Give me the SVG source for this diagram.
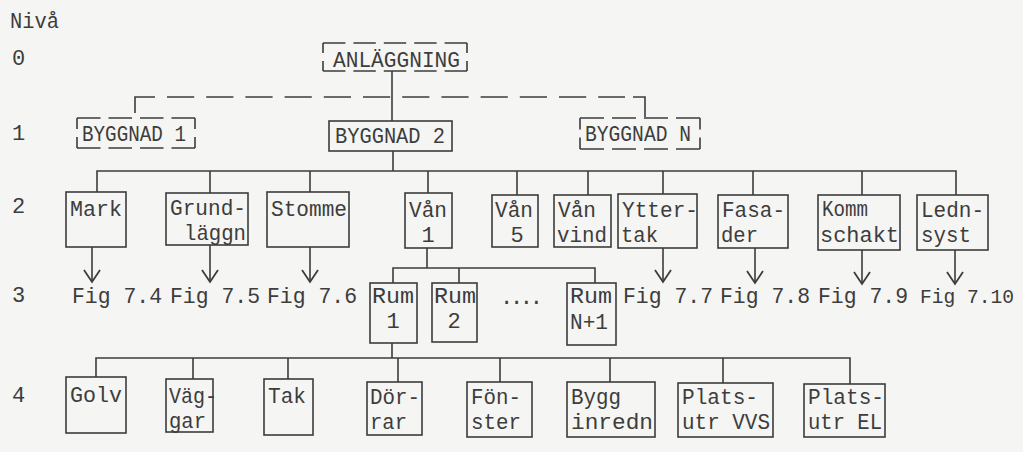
<svg xmlns="http://www.w3.org/2000/svg" width="1023" height="452" viewBox="0 0 1023 452">
<defs>
<style>
text{font-family:"Liberation Mono","DejaVu Sans Mono",monospace;font-size:22px;fill:#3d3d3d}
.box{fill:none;stroke:#3c3c3c;stroke-width:1.6}
.ln{fill:none;stroke:#3c3c3c;stroke-width:1.6}
.ar{fill:none;stroke:#3c3c3c;stroke-width:1.6;marker-end:url(#ah)}
</style>
<marker id="ah" markerWidth="16" markerHeight="20" refX="14" refY="10" orient="auto" markerUnits="userSpaceOnUse" viewBox="0 0 16 20">
<polyline points="2,2 14,10 2,18" fill="none" stroke="#3c3c3c" stroke-width="1.8"/>
</marker>
</defs>
<rect x="0" y="0" width="1023" height="452" fill="#f5f5f3"/>

<g id="levels">
<text x="10" y="28" textLength="49" lengthAdjust="spacingAndGlyphs">Nivå</text>
<text x="12" y="65">0</text>
<text x="12" y="140">1</text>
<text x="12" y="213">2</text>
<text x="12" y="302">3</text>
<text x="12" y="402">4</text>
</g>

<g id="connectors">
<path class="ln" d="M135,113 V97 H155"/>
<path class="ln" d="M167,97 H625" stroke-dasharray="27.2 12"/>
<path class="ln" d="M633,97 H645 V117"/>
<path class="ln" d="M392,71 V121"/>
<path class="ln" d="M393,151 V171 M97,192 V171 H956 V195 M210,171 V193 M310,171 V192 M428,171 V193 M517,171 V195 M588,171 V195 M663,171 V194 M753,171 V195 M862,171 V195"/>
<path class="ln" d="M427,248 V268 M393,283 V268 H595 V283 M459,268 V283"/>
<path class="ln" d="M392,343 V358 M96,377 V358 H850 V384 M193,358 V379 M288,358 V379 M398,358 V382 M500,358 V382 M610,358 V382 M723,358 V383"/>
<path class="ar" d="M92,247 V282"/>
<path class="ar" d="M210,245 V282"/>
<path class="ar" d="M310,247 V282"/>
<path class="ar" d="M663,248 V282"/>
<path class="ar" d="M755,248 V283"/>
<path class="ar" d="M862,250 V284"/>
<path class="ar" d="M955,250 V284"/>
</g>

<g id="n-anlaggning">
<path class="ln" d="M323,43 H467 M323,71 H467" stroke-dasharray="22.4 8"/>
<path class="ln" d="M323,43 V71 M467,43 V71" stroke-dasharray="10 8"/>
<text x="333" y="67" textLength="127" lengthAdjust="spacingAndGlyphs">ANLÄGGNING</text>
</g>
<g id="n-byggnad1">
<path class="ln" d="M77,118 H195 M77,148 H195" stroke-dasharray="23.5 8"/>
<path class="ln" d="M77,118 V148 M195,118 V148" stroke-dasharray="11 8"/>
<text x="82" y="141" textLength="104" lengthAdjust="spacingAndGlyphs">BYGGNAD 1</text>
</g>
<g id="n-byggnad2"><rect class="box" x="329" y="121" width="123" height="30"/><text x="335" y="143" textLength="110" lengthAdjust="spacingAndGlyphs">BYGGNAD 2</text></g>
<g id="n-byggnadN">
<path class="ln" d="M580,118 H700 M580,149 H700" stroke-dasharray="24 8"/>
<path class="ln" d="M580,118 V149 M700,118 V149" stroke-dasharray="11.5 8"/>
<text x="585" y="141" textLength="106" lengthAdjust="spacingAndGlyphs">BYGGNAD N</text>
</g>

<g id="n-mark"><rect class="box" x="66" y="192" width="60" height="55"/><text x="70" y="216" textLength="52" lengthAdjust="spacingAndGlyphs">Mark</text></g>
<g id="n-grund"><rect class="box" x="166" y="193" width="82" height="52"/><text x="170" y="215" textLength="76" lengthAdjust="spacingAndGlyphs">Grund-</text><text x="184" y="240" textLength="62" lengthAdjust="spacingAndGlyphs">läggn</text></g>
<g id="n-stomme"><rect class="box" x="267" y="192" width="82" height="55"/><text x="271" y="216" textLength="76" lengthAdjust="spacingAndGlyphs">Stomme</text></g>
<g id="n-van1"><rect class="box" x="405" y="193" width="47" height="55"/><text x="409" y="217" textLength="38" lengthAdjust="spacingAndGlyphs">Vån</text><text x="428" y="242" text-anchor="middle">1</text></g>
<g id="n-van5"><rect class="box" x="492" y="195" width="46" height="52"/><text x="495" y="217" textLength="38" lengthAdjust="spacingAndGlyphs">Vån</text><text x="517" y="242" text-anchor="middle">5</text></g>
<g id="n-vanvind"><rect class="box" x="554" y="195" width="57" height="52"/><text x="558" y="217" textLength="38" lengthAdjust="spacingAndGlyphs">Vån</text><text x="557" y="242" textLength="50" lengthAdjust="spacingAndGlyphs">vind</text></g>
<g id="n-yttertak"><rect class="box" x="618" y="194" width="79" height="54"/><text x="622" y="217" textLength="76" lengthAdjust="spacingAndGlyphs">Ytter-</text><text x="621" y="242" textLength="37" lengthAdjust="spacingAndGlyphs">tak</text></g>
<g id="n-fasader"><rect class="box" x="718" y="195" width="70" height="53"/><text x="722" y="217" textLength="63" lengthAdjust="spacingAndGlyphs">Fasa-</text><text x="721" y="242" textLength="37" lengthAdjust="spacingAndGlyphs">der</text></g>
<g id="n-komm"><rect class="box" x="818" y="195" width="82" height="55"/><text x="822" y="216" textLength="46" lengthAdjust="spacingAndGlyphs">Komm</text><text x="820" y="242" textLength="79" lengthAdjust="spacingAndGlyphs">schakt</text></g>
<g id="n-ledn"><rect class="box" x="917" y="195" width="71" height="55"/><text x="921" y="217" textLength="63" lengthAdjust="spacingAndGlyphs">Ledn-</text><text x="921" y="242" textLength="50" lengthAdjust="spacingAndGlyphs">syst</text></g>

<g id="figrefs">
<text x="72" y="303" textLength="90" lengthAdjust="spacingAndGlyphs">Fig 7.4</text>
<text x="170" y="303" textLength="90" lengthAdjust="spacingAndGlyphs">Fig 7.5</text>
<text x="267" y="303" textLength="90" lengthAdjust="spacingAndGlyphs">Fig 7.6</text>
<text x="623" y="303" textLength="90" lengthAdjust="spacingAndGlyphs">Fig 7.7</text>
<text x="720" y="303" textLength="90" lengthAdjust="spacingAndGlyphs">Fig 7.8</text>
<text x="818" y="303" textLength="90" lengthAdjust="spacingAndGlyphs">Fig 7.9</text>
<text x="920" y="303" style="font-size:21px" textLength="94" lengthAdjust="spacingAndGlyphs">Fig 7.10</text>
</g>

<g id="n-rum1"><rect class="box" x="370" y="283" width="47" height="60"/><text x="372" y="303" textLength="42" lengthAdjust="spacingAndGlyphs">Rum</text><text x="393" y="328" text-anchor="middle">1</text></g>
<g id="n-rum2"><rect class="box" x="432" y="283" width="45" height="59"/><text x="434" y="303" textLength="42" lengthAdjust="spacingAndGlyphs">Rum</text><text x="454" y="328" text-anchor="middle">2</text></g>
<text x="500" y="304" textLength="43" lengthAdjust="spacing">....</text>
<g id="n-rumN"><rect class="box" x="567" y="283" width="49" height="62"/><text x="570" y="303" textLength="42" lengthAdjust="spacingAndGlyphs">Rum</text><text x="570" y="329" textLength="38" lengthAdjust="spacingAndGlyphs">N+1</text></g>

<g id="n-golv"><rect class="box" x="66" y="377" width="60" height="56"/><text x="70" y="402" textLength="52" lengthAdjust="spacingAndGlyphs">Golv</text></g>
<g id="n-vaggar"><rect class="box" x="166" y="379" width="47" height="53"/><text x="169" y="403" textLength="48" lengthAdjust="spacingAndGlyphs">Väg-</text><text x="169" y="428" textLength="37" lengthAdjust="spacingAndGlyphs">gar</text></g>
<g id="n-tak"><rect class="box" x="264" y="379" width="49" height="56"/><text x="268" y="403" textLength="38" lengthAdjust="spacingAndGlyphs">Tak</text></g>
<g id="n-dorrar"><rect class="box" x="367" y="382" width="55" height="53"/><text x="370" y="404" textLength="50" lengthAdjust="spacingAndGlyphs">Dör-</text><text x="370" y="429" textLength="37" lengthAdjust="spacingAndGlyphs">rar</text></g>
<g id="n-fonster"><rect class="box" x="467" y="382" width="65" height="55"/><text x="471" y="404" textLength="50" lengthAdjust="spacingAndGlyphs">Fön-</text><text x="471" y="429" textLength="50" lengthAdjust="spacingAndGlyphs">ster</text></g>
<g id="n-bygg"><rect class="box" x="567" y="382" width="88" height="55"/><text x="571" y="404" textLength="50" lengthAdjust="spacingAndGlyphs">Bygg</text><text x="571" y="429" textLength="82" lengthAdjust="spacingAndGlyphs">inredn</text></g>
<g id="n-platsvvs"><rect class="box" x="678" y="383" width="95" height="54"/><text x="682" y="404" textLength="76" lengthAdjust="spacingAndGlyphs">Plats-</text><text x="682" y="429" textLength="88" lengthAdjust="spacingAndGlyphs">utr VVS</text></g>
<g id="n-platsel"><rect class="box" x="804" y="384" width="81" height="53"/><text x="808" y="404" textLength="76" lengthAdjust="spacingAndGlyphs">Plats-</text><text x="808" y="429" textLength="74" lengthAdjust="spacingAndGlyphs">utr EL</text></g>
</svg>
